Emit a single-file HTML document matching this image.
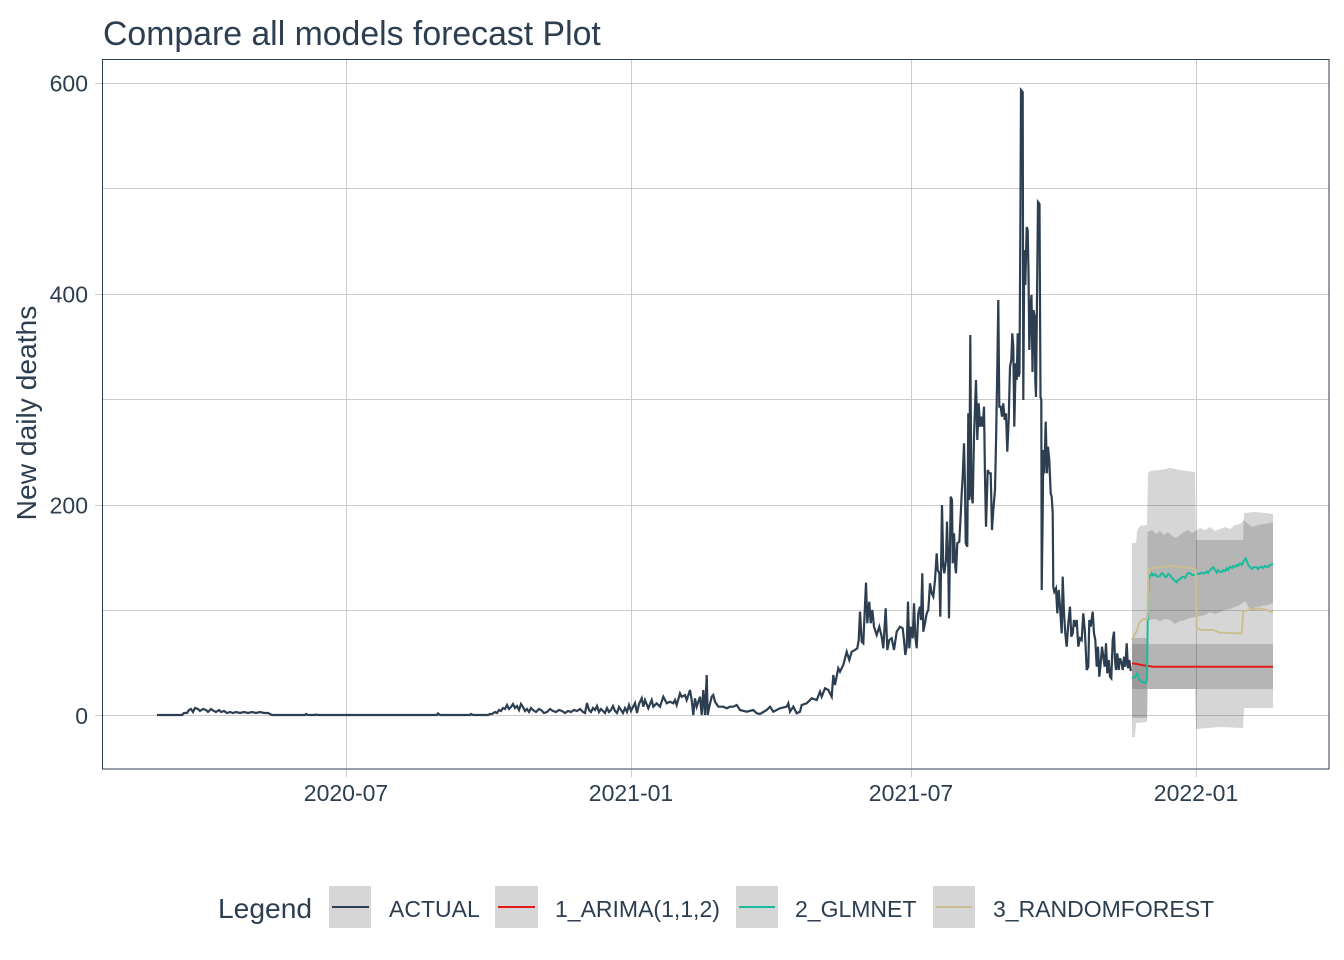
<!DOCTYPE html>
<html>
<head>
<meta charset="utf-8">
<style>
  html,body{margin:0;padding:0;background:#fff;}
  svg{display:block;}
  text{font-family:"Liberation Sans",Arial,sans-serif;fill:#2C3E50;}
</style>
</head>
<body>
<svg width="1344" height="960" viewBox="0 0 1344 960" xmlns="http://www.w3.org/2000/svg">
  <rect x="0" y="0" width="1344" height="960" fill="#ffffff"/>

  <!-- gridlines -->
  <g stroke="#cccccc" stroke-width="1" fill="none">
    <line x1="102" y1="83.5" x2="1329" y2="83.5"/>
    <line x1="102" y1="188.5" x2="1329" y2="188.5"/>
    <line x1="102" y1="294.5" x2="1329" y2="294.5"/>
    <line x1="102" y1="399.5" x2="1329" y2="399.5"/>
    <line x1="102" y1="505.5" x2="1329" y2="505.5"/>
    <line x1="102" y1="610.5" x2="1329" y2="610.5"/>
    <line x1="102" y1="715.5" x2="1329" y2="715.5"/>
    <line x1="346.5" y1="59" x2="346.5" y2="769"/>
    <line x1="631.5" y1="59" x2="631.5" y2="769"/>
    <line x1="911.5" y1="59" x2="911.5" y2="769"/>
    <line x1="1196.5" y1="59" x2="1196.5" y2="769"/>
  </g>

  <!-- ribbons -->
  <g fill="#333333" fill-opacity="0.2" stroke="none">
    <!-- ARIMA -->
    <polygon points="1132,644 1273,644 1273,689 1132,689"/>
    <!-- GLMNET -->
    <polygon points="1132,638 1147,638 1147.5,532 1152,530 1156,534 1160,531 1164,535 1168,532 1172,536 1176,538 1180,535 1184,532 1188,530 1192,533 1195,531 1200,528 1205,530 1210,527 1215,531 1220,529 1225,527 1230,529 1235,525 1240,524 1244,520 1248,524 1252,527 1258,525 1264,524 1270,523 1273,522 1273,603 1268,605 1262,606 1256,607 1250,609 1245,601 1240,605 1235,607 1230,609 1225,610 1220,612 1215,614 1210,612 1205,615 1200,616 1195,617 1190,618 1185,620 1180,621 1175,624 1170,620 1165,619 1160,621 1155,619 1150,620 1147.5,621 1147,718 1132,718"/>
    <!-- RANDOMFOREST -->
    <polygon points="1132,543 1136,543 1137,531 1140,526 1147,525 1148,473 1150,471 1160,470 1170,468 1180,470 1195,472 1196,540 1243,540 1244,513 1255,512 1265,513 1273,514 1273,708 1244,708 1243,728 1220,727 1196,729 1195,689 1148,689 1147,722 1136,723 1135,737 1132,737"/>
  </g>

  <!-- ACTUAL -->
  <polyline fill="none" stroke="#2C3E50" stroke-width="2.2" stroke-linejoin="miter" points="
157,715 182,715 184,713 187,713 189,710 191,709 193,712 195,708 198,709 200,711 203,709 206,710 208,712 211,709 214,711 216,712 219,710 221,712 224,711 227,713 230,712 233,713 236,712 240,713 244,712 248,713 252,712 256,713 260,712 264,713 268,713 272,715 305,715 306,714 308,715 315,715 316,714.5 318,715 437,715 438,713.5 440,715 470,715 471,714 473,715 488,715 490,714
492,714 495,712 497,713 499,710 501,711 503,708 505,709 507,705 509,709 511,707 513,704 515,708 517,706 519,710 521,704 523,707 525,711 527,709 529,712 531,708 533,710 536,712 539,709 541,710 544,713 547,712 550,709 553,711 556,712 559,710 562,711 565,713 568,711 571,712 574,710 577,711 580,709 583,712 585,713 587,703 589,710 591,712 593,708 595,710 597,706 599,712 601,709 603,711 605,713 607,708 609,712 611,710 613,706 615,711 617,713 619,707 621,710 623,713 625,708 627,712 629,705 631,711 633,707 635,703 637,713 639,704
641.7,698.3 643.3,706.7 645,700 648.3,708.3 651.7,700 653.3,706.7 656.7,703.3 660,706.7 663.3,696.7 666.7,703.3 670,701.7 673.3,703.3 675,700 676.7,705 680,693.3 681.7,696.7 685,695 686.7,700 690,690 691.7,700 693.3,715 695,698.3 696.7,706.7 700,696.7 701.7,715 703.3,690 705,715 706.7,675 707.7,715 709.3,706.7 711.7,696.7 713.3,695 715,701.7 718.3,706.7 723.3,706.7 726.7,708.3 730,706.7 733.3,706.7 736.7,705 740,710 746.7,711.7 753.3,710 756.7,713.3 760,714 766.7,710 770,706.7 773.3,711.7 780,708.3 786.7,706.7 788.3,703.3 790,711.7 793.3,706.7 796.7,713.3 800,711.7 801.7,705 806.7,703.3 811.7,698.3 816.7,700 820,691.7 821.7,696.7 825,688.3 828.3,690 831.7,696.7 833.3,675 835,685 838.3,668.3 840,671.7 843.3,665 846.7,651.7 849.3,660 851.7,651.7 855,650 857.3,648.3 858.7,640 860,611.7 861.7,641.7 863.3,643.3 866,582.7 867.3,623.3 869.3,601.7 870.7,623.3 872.3,610 874,626.7 876.7,635 879.3,626.7 881.7,636.7 883.3,648.3 885.7,608.3 887.3,650 889.3,640 891.7,638.3 894,650 896.7,631.7
900,626.7 902.7,628.3 904,640 905.3,655 906.7,646.7 908,601.7 909.3,648.3 911,626.7 912.7,638.3 914,603.3 915.3,636.7 916.7,648.3 918.3,613.3 920,606.7 921,620 922.3,573.3 923.3,631.7 925,623.3 926.7,613.3 928.3,610 930,583.3 931.7,593.3 933.3,596.7 935,580 936.7,553.3 937.7,570 939.3,573.3 940.3,616.7 942,505 943.3,566.7 944.3,573.3 946,560 947,521.7 948.3,566.7 949,618.3 950.7,496.7 952,500 952.7,563.3 954,533.3 955.3,566.7 956,573.3 957.3,543.3 959.3,541.7 960.7,515 961.7,493.3 962.7,476.7 964,443.3 965,486.7 965.7,543.3 967.3,546.7 968.3,413.3 969.3,500 970.3,335 971.3,493.3 972.7,503.3 974,436.7 976,380 977.3,440 978.7,403.3 980,426.7 981.3,416.7 982.7,426.7 984,406.7 985,476.7 986,526.7 987.7,470 989.3,473.3 990.7,473.3 992,530 993.3,510 995,490 996,443.3 997.3,368.3 998.3,300 999.3,406.7 1000.7,406.7 1002,416.7 1003.3,403.3 1004.7,420 1006,413.3 1007.3,451.7 1008.7,420 1010,366.7 1011.3,360 1012.3,333.3 1013.3,346.7 1014.3,426.7 1015.7,363.3 1016.7,380 1017.7,333.3 1018.7,376.7
1019.5,373 1020.5,200 1021,90 1022.7,92 1023.3,400 1024.3,250 1025.3,285 1026.7,227 1027.7,230 1028.5,272 1029.3,350 1030.5,307 1031.5,295 1032.5,372 1033.5,310 1034.7,317 1035.3,380 1036,397 1038,202 1039.5,204 1040.5,397 1041.3,400
1041.7,590 1042.7,513.3 1043.3,450 1044.3,473.3 1045.7,421.7 1047,473.3 1048,446.7 1049.3,460 1050.7,493.3 1051.7,496.7 1052.7,513.3 1053.3,586.7 1054.3,591.7 1056,588.3 1057.3,613.3 1058.7,590 1060,606.7 1061.7,633.3 1062.7,576.7 1064,613.3 1065.3,633.3 1066.7,646.7 1068.3,623.3 1070,606.7 1071.3,636.7 1072.7,633.3 1074,620 1075.3,626.7 1076.7,620 1078.3,646.7 1080,638.3 1081.7,640 1083.3,613.3 1085,633.3 1086.7,670 1088.3,666.7 1089.3,620 1090.7,626.7 1092.7,611.7 1094,633.3 1095.3,640 1096.7,666.7 1098,646.7 1099.3,676.7 1100.7,663.3 1102,646.7 1103.3,656.7 1104.7,666.7 1106,643.3 1107.3,673.3 1108.7,660 1110,676.7 1111.3,678.3 1112.7,640 1114,631.7 1115,660 1116,670 1117.3,653.3 1118.7,670 1120,658.3 1121.7,663.3 1122.7,670 1124,656.7 1125.3,666.7 1126.7,643.3 1128,668.3 1129.3,660 1130.7,670 1131.7,670"/>

  <!-- ARIMA -->
  <polyline fill="none" stroke="#E31A1C" stroke-width="2" points="1132,663.3 1136.7,664 1143.3,665.3 1153.3,666.7 1273,666.7"/>

  <!-- GLMNET -->
  <polyline fill="none" stroke="#18BC9C" stroke-width="2" points="1132,678.3 1135,676.7 1137.3,673.3 1139.3,679.3 1141.7,681.7 1146,682.7 1147,679.3 1148,595 1149,575 1150,576.7 1151.7,573.3 1153,575.5 1155,574 1157.3,576.7 1160,576 1162,573 1163.3,574 1165,577 1166.7,576.7 1168,574 1170,575 1172,578 1173.3,579.3 1176.7,582.3 1178,580 1180,579.3 1182,577 1183.3,576.7 1185,578 1186.7,575.3 1188,573 1190,573.3 1192,575 1195,575 1196.7,573.3 1199,574 1201.7,572.7 1204,573.5 1206.7,571.7 1208,573 1210,570 1213.3,567.3 1216.7,572.7 1218,570 1220,571.7 1222,572 1223.3,570 1225,571 1226.7,568.3 1228,570 1230,566.7 1232,568 1233.3,566 1235,567 1236.7,565 1238,566 1240,563.3 1242,565 1243.3,561.7 1245.7,558.3 1248.3,565 1251.7,569 1254,567 1256.7,567.3 1258,569 1260,567 1261.7,566.7 1263,568 1265,566 1266.7,566.7 1268,567 1270,565 1273,564"/>

  <!-- RANDOMFOREST -->
  <polyline fill="none" stroke="#CCBE93" stroke-width="2" points="1132,640 1134.3,635 1137.3,630 1138.3,625 1140,621.7 1143.3,619.3 1147,619.3 1147.7,610 1148.3,568.3 1150,568.3 1158.3,567.3 1168.3,566 1180,566.7 1194.3,568.3 1195.7,570 1196.7,628.3 1201.7,630 1213.3,630 1220,632.7 1241.7,633.3 1243.3,611.7 1250,609.3 1260,608.3 1266.7,610 1273,612.7"/>

  <!-- panel border -->
  <rect x="102.5" y="59.5" width="1226.5" height="709.5" fill="none" stroke="#2C3E50" stroke-width="1"/>

  <!-- ticks -->
  <g stroke="#cccccc" stroke-width="1">
    <line x1="95" y1="83.5" x2="102" y2="83.5"/>
    <line x1="95" y1="294.5" x2="102" y2="294.5"/>
    <line x1="95" y1="505.5" x2="102" y2="505.5"/>
    <line x1="95" y1="715.5" x2="102" y2="715.5"/>
    <line x1="346.5" y1="770" x2="346.5" y2="777"/>
    <line x1="631.5" y1="770" x2="631.5" y2="777"/>
    <line x1="911.5" y1="770" x2="911.5" y2="777"/>
    <line x1="1196.5" y1="770" x2="1196.5" y2="777"/>
  </g>

  <!-- y tick labels -->
  <g font-size="23" text-anchor="end">
    <text x="88" y="91.5">600</text>
    <text x="88" y="302.5">400</text>
    <text x="88" y="513.5">200</text>
    <text x="88" y="724">0</text>
  </g>

  <!-- x tick labels -->
  <g font-size="23" text-anchor="middle">
    <text x="346" y="801">2020-07</text>
    <text x="631" y="801">2021-01</text>
    <text x="911" y="801">2021-07</text>
    <text x="1196" y="801">2022-01</text>
  </g>

  <!-- title -->
  <text x="103" y="45" font-size="33.8">Compare all models forecast Plot</text>

  <!-- y axis title -->
  <text transform="translate(36,413) rotate(-90)" font-size="28.2" text-anchor="middle">New daily deaths</text>

  <!-- legend -->
  <text x="218" y="918" font-size="28.2">Legend</text>
  <rect x="329" y="886" width="42" height="42" fill="#d6d6d6"/>
  <line x1="332" y1="907" x2="369" y2="907" stroke="#2C3E50" stroke-width="2"/>
  <text x="389" y="917" font-size="23">ACTUAL</text>

  <rect x="495" y="886" width="43" height="42" fill="#d6d6d6"/>
  <line x1="498" y1="907" x2="535" y2="907" stroke="#E31A1C" stroke-width="2"/>
  <text x="555" y="917" font-size="23">1_ARIMA(1,1,2)</text>

  <rect x="736" y="886" width="42" height="42" fill="#d6d6d6"/>
  <line x1="739" y1="907" x2="775" y2="907" stroke="#18BC9C" stroke-width="2"/>
  <text x="795" y="917" font-size="23">2_GLMNET</text>

  <rect x="933" y="886" width="42" height="42" fill="#d6d6d6"/>
  <line x1="936" y1="907" x2="972" y2="907" stroke="#CCBE93" stroke-width="2"/>
  <text x="993" y="917" font-size="23">3_RANDOMFOREST</text>
</svg>
</body>
</html>
